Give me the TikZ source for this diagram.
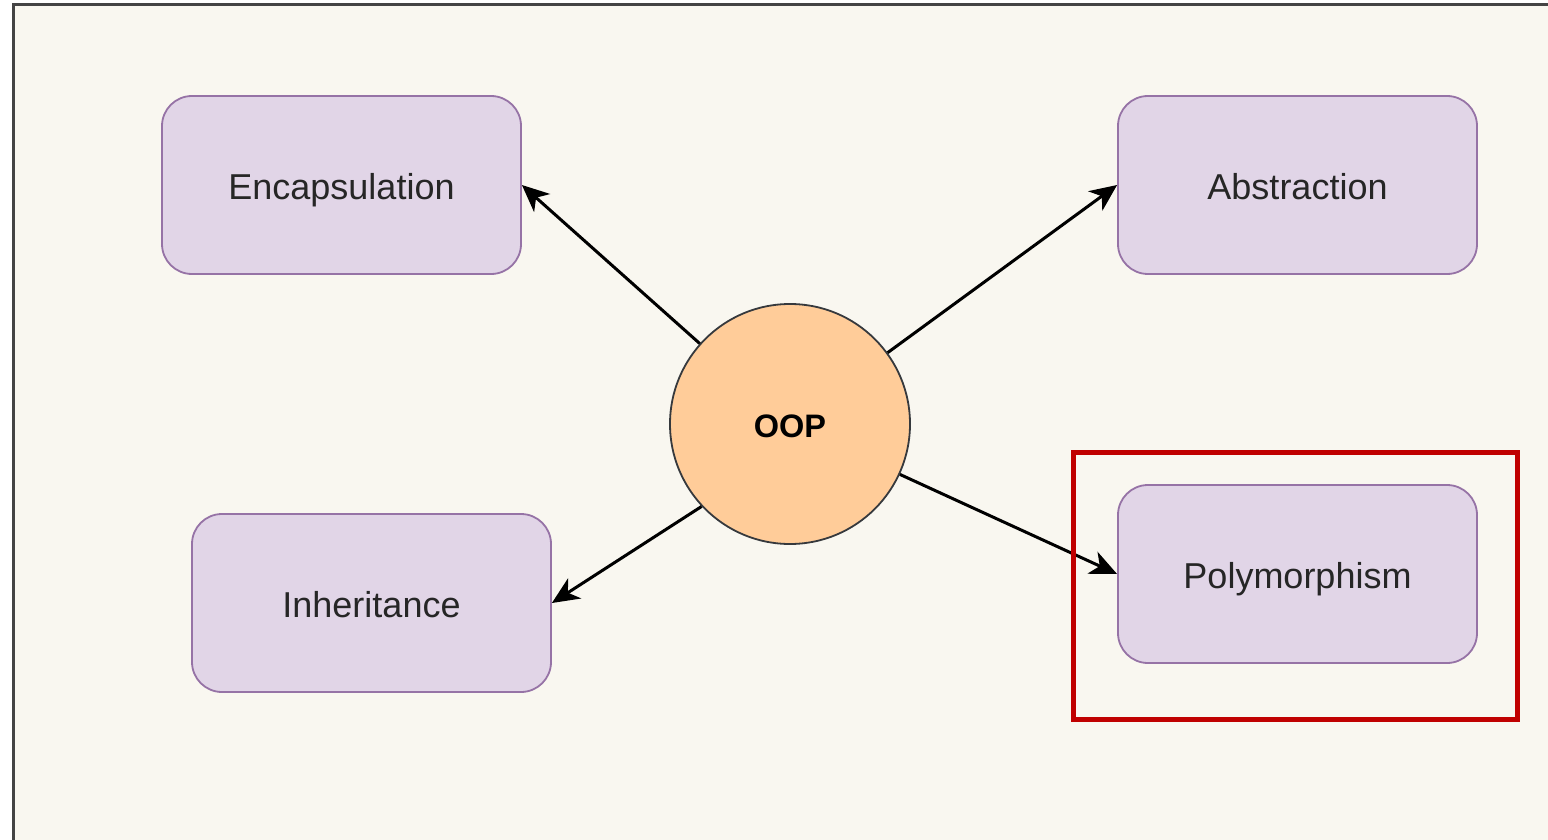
\documentclass[tikz,border=0pt]{standalone}
\usepackage{fontspec}
\setmainfont{Liberation Sans}
\usetikzlibrary{arrows.meta}
\definecolor{bgcream}{HTML}{F9F7F0}
\definecolor{framegray}{HTML}{444444}
\definecolor{boxfill}{HTML}{E1D5E7}
\definecolor{boxline}{HTML}{9673A6}
\definecolor{oopfill}{HTML}{FFCC99}
\definecolor{oopline}{HTML}{36393D}
\definecolor{hlred}{HTML}{C00000}
\begin{document}
\begin{tikzpicture}[x=1pt,y=-1pt,
  concept/.style={draw=boxline, fill=boxfill, line width=1.8pt, rounded corners=30pt,
    minimum width=359pt, minimum height=178pt, inner sep=0pt,
    text height=28pt, text depth=0pt,
    font=\fontsize{36}{40}\selectfont, text=black!85},
  core/.style={circle, draw=oopline, fill=oopfill, line width=1.8pt,
    minimum size=240pt, inner sep=0pt, text height=26pt, text depth=0pt,
    font=\fontsize{32.5}{38}\selectfont\bfseries},
  link/.style={line width=3pt, -{Stealth[length=27pt, width=24pt, inset=8pt]}},
  highlight/.style={draw=hlred, line width=5pt}]
\useasboundingbox (0,0) rectangle (1548,840);
\clip (0,0) rectangle (1548,840);
\fill[white] (0,0) rectangle (1548,840);
\draw[framegray, fill=bgcream, line width=3pt] (13,5) rectangle (1570,860);

\node[concept] (enc) at (341.5,185) {Encapsulation};
\node[concept] (abs) at (1297.5,185) {Abstraction};
\node[concept] (inh) at (371.5,603) {Inheritance};
\node[concept] (poly) at (1297.5,574) {Polymorphism};
\node[core] (oop) at (790,424) {OOP};

\draw[link] (oop) -- (enc.east);
\draw[link] (oop) -- (abs.west);
\draw[link] (oop.223) -- (inh.east);
\draw[link] (oop) -- (poly.west);

\node[highlight, minimum width=444pt, minimum height=267pt, inner sep=0pt] (box) at (1295,585.5) {};
\end{tikzpicture}
\end{document}
